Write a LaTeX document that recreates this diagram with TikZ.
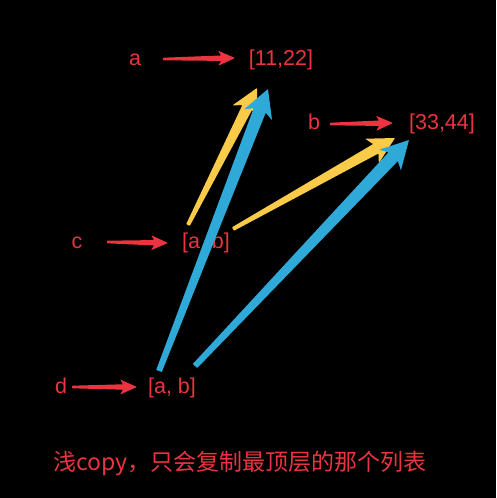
\documentclass[tikz,border=0pt]{standalone}
\usepackage{fontspec}
\setmainfont{Liberation Sans}
\newfontfamily\cjk{Noto Sans CJK SC}
\usetikzlibrary{calc, positioning}

\definecolor{redc}{HTML}{EA3540}
\definecolor{yelc}{HTML}{F9CB48}
\definecolor{bluc}{HTML}{2FA9D8}

\tikzset{
  lbl/.style={text=redc, inner sep=0pt, anchor=base, font=\fontsize{21.5}{24}\selectfont},
  capt/.style={text=redc, inner sep=0pt, anchor=base, font=\cjk\fontsize{23}{26}\selectfont}
}

% tapered arrow: colour, tail, tip, tail half width, shaft half width, head length, head half width
\newcommand{\fatarrow}[7]{%
  \coordinate (fa-t) at (#2);
  \coordinate (fa-h) at (#3);
  \coordinate (fa-b) at ($(fa-h)!#6!(fa-t)$);
  \coordinate (fa-w) at ($(fa-b)!-0.2!(fa-h)$);
  \fill[#1, rounded corners=0.6pt] ($(fa-t)!#4!90:(fa-h)$) -- ($(fa-b)!#5!90:(fa-h)$)
    -- ($(fa-w)!#7!90:(fa-h)$) -- (fa-h) -- ($(fa-w)!#7!-90:(fa-h)$)
    -- ($(fa-b)!#5!-90:(fa-h)$) -- ($(fa-t)!#4!-90:(fa-h)$) -- cycle;
}

\begin{document}
\begin{tikzpicture}[x=1pt, y=-1pt]
    \fill[black] (0,0) rectangle (496,498);
    \useasboundingbox (0,0) rectangle (496,498);
    %
    \node[lbl] (a) at (135,65) {a};
    \node[lbl] (l1) at (281,65) {[11,22]};
    \node[lbl] (b) at (314,129) {b};
    \node[lbl] (l2) at (442,129) {[33,44]};
    \node[lbl] (c) at (77,248) {c};
    \node[lbl] (c2) at (206,248) {[a, b]};
    \node[lbl] (d) at (61,393) {d};
    \node[lbl] (d2) at (172,393) {[a, b]};
    \node[capt] (cap) at (240,470) {浅copy，只会复制最顶层的那个列表};
    %
    \foreach \s/\ds/\t/\dt in {a/{28,-6}/l1/{-46,-7}, b/{16,-5}/l2/{-49,-6},
                               c/{30,-6}/c2/{-38,-5}, d/{11,-6}/d2/{-35,-6}}
    \fatarrow{redc}{$(\s.base)+(\ds)$}{$(\t.base)+(\dt)$}{1.3pt}{2.7pt}{14pt}{7.5pt};
    %
    \fatarrow{yelc}{$(c2.base)+(-18,-23)$}{$(l1.base)+(-24,23)$}{2pt}{5.4pt}{22pt}{14pt}
    \fatarrow{yelc}{$(c2.base)+(27,-19)$}{$(l2.base)+(-47,9)$}{2pt}{5.4pt}{22pt}{14pt}
    %
    \fatarrow{bluc}{$(d2.base)+(-13,-22)$}{$(l1.base)+(-13,24)$}{3pt}{6.4pt}{23pt}{15pt}
    \fatarrow{bluc}{$(d2.base)+(23,-27)$}{$(l2.base)+(-33,11)$}{3pt}{6.4pt}{23pt}{15pt}
\end{tikzpicture}
\end{document}
